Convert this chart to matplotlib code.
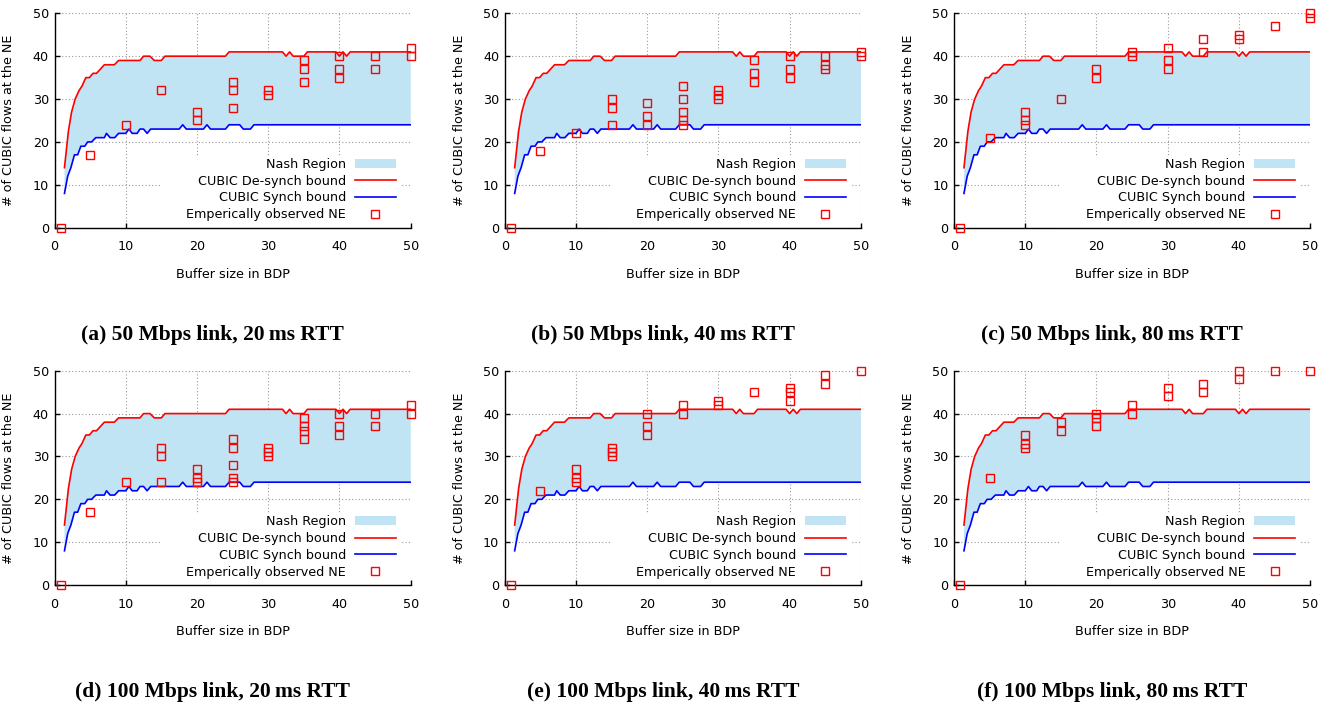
import matplotlib.pyplot as plt
from matplotlib.patches import Rectangle

# Model bounds on the number of CUBIC flows (same curve for every link setting)
upper_x = [1.4, 1.95, 2.4, 2.9, 3.45, 3.85, 4.4, 4.9, 5.4, 5.9, 7.0, 8.4, 9.0, 12.0, 12.5,
           13.4, 14.0, 15.0, 15.5, 24.0, 24.5, 32.0, 32.5, 33.0, 33.5, 35.0, 35.5, 39.5,
           40.0, 40.5, 41.0, 41.5, 50.0]
upper_y = [14, 22.5, 27, 30, 32, 33, 35, 35, 36, 36, 38, 38, 39, 39, 40,
           40, 39, 39, 40, 40, 41, 41, 40, 41, 40, 40, 41, 41,
           40, 41, 40, 41, 41]
lower_x = [1.4, 1.85, 2.3, 2.8, 3.25, 3.7, 4.25, 4.65, 5.2, 5.8, 7.0, 7.3, 7.8, 8.45, 9.0,
           10.0, 10.45, 10.9, 11.6, 12.0, 12.5, 13.0, 13.5, 17.5, 18.0, 18.5, 20.9, 21.4,
           21.9, 24.0, 24.5, 26.0, 26.5, 27.5, 28.0, 50.0]
lower_y = [8, 12, 14, 17, 17, 19, 19, 20, 20, 21, 21, 22, 21, 21, 22,
           22, 23, 22, 22, 23, 23, 22, 23, 23, 24, 23, 23, 24,
           23, 23, 24, 24, 23, 23, 24, 24]

# Empirically observed Nash equilibria, one list pair per experiment
ne_x_a = [0.85, 5, 10, 15, 20, 20, 25, 25, 25, 30, 30, 35, 35, 35, 40, 40, 40, 45, 45, 50, 50]
ne_y_a = [0, 17, 24, 32, 27, 25, 34, 32, 28, 32, 31, 39, 37, 34, 40, 37, 35, 40, 37, 42, 40]

ne_x_b = [0.85, 5, 10, 15, 15, 15, 20, 20, 20, 25, 25, 25, 25, 25, 30, 30, 30,
          35, 35, 35, 40, 40, 40, 45, 45, 45, 50, 50]
ne_y_b = [0, 18, 22, 30, 28, 24, 29, 26, 24, 33, 30, 27, 25, 24, 32, 31, 30,
          39, 36, 34, 40, 37, 35, 40, 38, 37, 41, 40]

ne_x_c = [0.85, 5, 10, 10, 10, 15, 20, 20, 25, 25, 30, 30, 30, 35, 35, 40, 40, 45, 50, 50]
ne_y_c = [0, 21, 27, 25, 24, 30, 37, 35, 41, 40, 42, 39, 37, 44, 41, 45, 44, 47, 50, 49]

ne_x_d = [0.85, 5, 10, 15, 15, 15, 20, 20, 20, 25, 25, 25, 25, 25, 30, 30, 30,
          35, 35, 35, 35, 40, 40, 40, 45, 45, 50, 50]
ne_y_d = [0, 17, 24, 32, 30, 24, 27, 25, 24, 34, 32, 28, 25, 24, 32, 31, 30,
          39, 37, 36, 34, 40, 37, 35, 40, 37, 42, 40]

ne_x_e = [0.85, 5, 10, 10, 10, 15, 15, 15, 20, 20, 20, 25, 25, 30, 30, 35,
          40, 40, 40, 45, 45, 50]
ne_y_e = [0, 22, 27, 25, 24, 32, 31, 30, 40, 37, 35, 42, 40, 43, 42, 45,
          46, 45, 43, 49, 47, 50]

ne_x_f = [0.85, 5, 10, 10, 10, 15, 15, 20, 20, 20, 25, 25, 30, 30, 35, 35, 40, 40, 45, 50]
ne_y_f = [0, 25, 35, 33, 32, 38, 36, 40, 39, 37, 42, 40, 46, 44, 47, 45, 50, 48, 50, 50]

captions = ["(a) 50 Mbps link, 20\u2009ms RTT", "(b) 50 Mbps link, 40\u2009ms RTT",
            "(c) 50 Mbps link, 80\u2009ms RTT", "(d) 100 Mbps link, 20\u2009ms RTT",
            "(e) 100 Mbps link, 40\u2009ms RTT", "(f) 100 Mbps link, 80\u2009ms RTT"]
panels = [(ne_x_a, ne_y_a), (ne_x_b, ne_y_b), (ne_x_c, ne_y_c),
          (ne_x_d, ne_y_d), (ne_x_e, ne_y_e), (ne_x_f, ne_y_f)]

FILL = '#c0e4f3'
W, H = 1332, 709
col_left = [54.5, 504.7, 954.0]   # pixels
row_top = [13.3, 370.7]
ax_w, ax_h = 356.2, 214.4

plt.rcParams['font.family'] = 'DejaVu Sans'
fig = plt.figure(figsize=(W / 100, H / 100), dpi=100)

for i, (xs, ys) in enumerate(panels):
    r, c = divmod(i, 3)
    left = col_left[c] / W
    bottom = 1 - (row_top[r] + ax_h) / H
    ax = fig.add_axes([left, bottom, ax_w / W, ax_h / H])

    ax.fill(upper_x + lower_x[::-1], upper_y + lower_y[::-1], color=FILL, lw=0,
            label='Nash Region', zorder=1)
    ax.plot(upper_x, upper_y, color='red', lw=1.2, label='CUBIC De-synch bound', zorder=2)
    ax.plot(lower_x, lower_y, color='blue', lw=1.2, label='CUBIC Synch bound', zorder=2)
    ax.plot(xs, ys, 's', mfc='none', mec='red', ms=6, mew=1.0, clip_on=False,
            label='Emperically observed NE', zorder=3)

    ax.set_xlim(0, 50)
    ax.set_ylim(0, 50)
    ax.set_xticks(range(0, 51, 10))
    ax.set_yticks(range(0, 51, 10))
    ax.set_axisbelow(True)
    ax.grid(True, color='#9a9a9a', linestyle=(0, (1, 2)), lw=0.8)
    for s in ['top', 'right']:
        ax.spines[s].set_visible(False)
    for s in ['left', 'bottom']:
        ax.spines[s].set_linewidth(1.0)
    ax.tick_params(direction='in', length=3.5, width=1.0, labelsize=9.2, colors='black')
    ax.tick_params(axis='x', pad=9)
    ax.tick_params(axis='y', pad=4)

    ax.set_xlabel('Buffer size in BDP', fontsize=9.2)
    ax.set_ylabel('# of CUBIC flows at the NE', fontsize=9.2)
    ax.xaxis.set_label_coords(0.5, -0.188)
    ax.yaxis.set_label_coords(-0.11, 0.5)

    # white backing behind the key, gnuplot style
    ax.add_patch(Rectangle((14.8, 0), 33.7, 16.8, facecolor='white', edgecolor='none', zorder=1.5))
    ax.legend(loc='lower right', bbox_to_anchor=(0.958, 0.03), frameon=False, fontsize=9.2,
              markerfirst=False, handlelength=3.2, handletextpad=0.7, borderpad=0,
              borderaxespad=0, labelspacing=0.3, numpoints=1)

    cx = (col_left[c] + ax_w / 2 - 20) / W
    cy = 1 - (335 if r == 0 else 692) / H
    fig.text(cx, cy, captions[i], ha='center', va='center', fontsize=15.5, fontweight='bold',
             family=['Liberation Serif', 'DejaVu Serif'])

fig.savefig('out.png', dpi=100)
